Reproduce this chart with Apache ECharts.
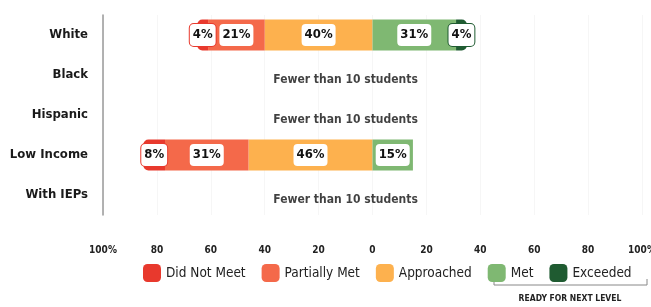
<!DOCTYPE html>
<html>
<head>
<meta charset="utf-8">
<script src="https://cdn.jsdelivr.net/npm/echarts@6/dist/echarts.min.js"></script>
<style>
  html, body { margin: 0; padding: 0; background: #fff; }
  #chart { width: 651px; height: 307px; }
</style>
</head>
<body>
<div id="chart"></div>
<script>
// data (left side is stored as negative values)
var categories = ['White', 'Black', 'Hispanic', 'Low Income', 'With IEPs']
var didNotMeet = [-4, null, null, -8, null]
var partiallyMet = [-21, null, null, -31, null]
var approached = [-40, null, null, -46, null]
var met = [31, null, null, 15, null]
var exceeded = [4, null, null, null, null]
var fewerRows = ['Black', 'Hispanic', 'With IEPs']
var xTicks = [-100, -80, -60, -40, -20, 0, 20, 40, 60, 80, 100]

var colors = {
  'Did Not Meet': '#e8392d',
  'Partially Met': '#f4694a',
  'Approached': '#fdb14e',
  'Met': '#7fb872',
  'Exceeded': '#1f5b31'
}
var condensed = '"DejaVu Sans Condensed", "DejaVu Sans", sans-serif'

function barSeries (name, data, radius) {
  return {
    name: name,
    type: 'bar',
    stack: 'total',
    barWidth: 31,
    data: data,
    itemStyle: { color: colors[name], borderRadius: radius || 0 },
    label: {
      show: true,
      position: 'inside',
      formatter: function (p) { return Math.abs(p.value) + '%' },
      fontFamily: condensed,
      fontWeight: 'bold',
      fontSize: 13,
      color: '#111',
      backgroundColor: '#fff',
      borderColor: colors[name],
      borderWidth: 1,
      borderRadius: 4,
      padding: [5, 3, 4, 3]
    }
  }
}

var myChart = echarts.init(document.getElementById('chart'))
var option = {
  animation: false,
  grid: { left: 103, right: 9, top: 15, height: 200, outerBoundsMode: 'none' },
  xAxis: {
    type: 'value',
    min: -100,
    max: 100,
    interval: 20,
    axisLine: { show: false },
    axisTick: { show: false },
    splitLine: { show: true, lineStyle: { color: '#f6f6f6' } },
    axisLabel: {
      margin: 30,
      fontFamily: condensed,
      fontWeight: 'bold',
      fontSize: 10,
      color: '#222',
      formatter: function (v) {
        if (xTicks.indexOf(v) < 0) return ''
        return Math.abs(v) === 100 ? '100%' : String(Math.abs(v))
      }
    }
  },
  yAxis: {
    type: 'category',
    inverse: true,
    data: categories,
    axisLine: { show: true, onZero: false, lineStyle: { color: '#999', width: 1.5 } },
    axisTick: { show: false },
    axisLabel: {
      margin: 15,
      fontFamily: condensed,
      fontWeight: 'bold',
      fontSize: 13,
      color: '#1a1a1a'
    }
  },
  legend: {
    data: ['Did Not Meet', 'Partially Met', 'Approached', 'Met', 'Exceeded'],
    left: 138,
    top: 259,
    itemWidth: 18,
    itemHeight: 18,
    itemGap: 16,
    icon: 'roundRect',
    textStyle: { fontFamily: condensed, fontSize: 13.5, color: '#222' }
  },
  series: [
    barSeries('Approached', approached),
    barSeries('Partially Met', partiallyMet),
    barSeries('Did Not Meet', didNotMeet, [5, 0, 0, 5]),
    barSeries('Met', met),
    barSeries('Exceeded', exceeded, [0, 5, 5, 0]),
    {
      name: 'note',
      type: 'scatter',
      symbolSize: 0,
      silent: true,
      data: fewerRows.map(function (c) { return [-10, c] }),
      label: {
        show: true,
        position: 'inside',
        offset: [0, 5],
        formatter: 'Fewer than 10 students',
        fontFamily: condensed,
        fontWeight: 'bold',
        fontSize: 12,
        color: '#111'
      }
    }
  ],
  graphic: [
    {
      type: 'polyline',
      shape: { points: [[494, 279], [494, 285], [647, 285], [647, 279]] },
      style: { stroke: '#888', lineWidth: 1, fill: null }
    },
    {
      type: 'text',
      x: 570,
      y: 294,
      style: {
        text: 'READY FOR NEXT LEVEL',
        font: 'bold 8.5px ' + condensed,
        fill: '#222',
        align: 'center'
      }
    }
  ]
}
myChart.setOption(option)
</script>
</body>
</html>
